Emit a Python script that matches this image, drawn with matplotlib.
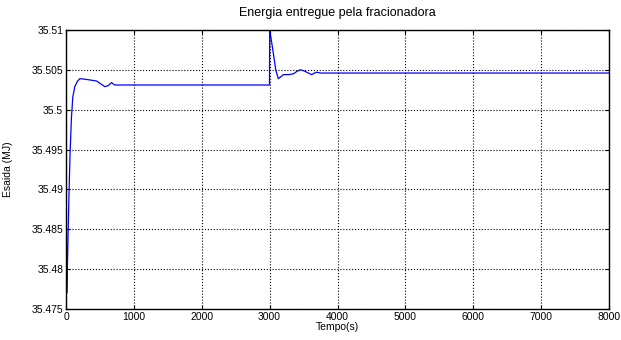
import numpy as np
import matplotlib.pyplot as plt
from matplotlib.ticker import FuncFormatter

# points (time in s, energy in MJ)
tempo = [0, 10, 20, 40, 60, 80, 100, 130, 170, 205, 300, 450, 520, 570, 620, 670, 700, 720, 760, 800,
         2998, 3000, 3020, 3054, 3090, 3128, 3160, 3202, 3280, 3350, 3400, 3447, 3500, 3570, 3620, 3660, 3693, 3750, 8000]
energia = [35.4993, 35.4770, 35.4801, 35.4880, 35.4946, 35.4990, 35.5016, 35.5029, 35.5036, 35.5039, 35.5038, 35.5036,
           35.5032, 35.5029, 35.5030, 35.5034, 35.5032, 35.5031, 35.5031, 35.5031,
           35.5031, 35.5100, 35.5090, 35.5071, 35.5050, 35.5039, 35.5041, 35.5044, 35.5044, 35.5045, 35.5048, 35.5050,
           35.5049, 35.5046, 35.5044, 35.5046, 35.5047, 35.5046, 35.5046]

xticks = [0, 1000, 2000, 3000, 4000, 5000, 6000, 7000, 8000]
yticks = [35.475, 35.48, 35.485, 35.49, 35.495, 35.5, 35.505, 35.51]

plt.rcParams['font.family'] = ['Liberation Sans', 'DejaVu Sans']

fig = plt.figure(figsize=(6.21, 3.4), dpi=100)
ax = fig.add_axes([0.1063, 0.0912, 0.8744, 0.8206])
ax.plot(tempo, energia, color='blue', linewidth=0.9)

ax.set_xlim(0, 8000)
ax.set_ylim(35.475, 35.51)
ax.set_xticks(xticks)
ax.set_yticks(yticks)
ax.yaxis.set_major_formatter(FuncFormatter(lambda v, p: '%g' % round(v, 4)))
ax.grid(True, color='black', linestyle=':', linewidth=0.8)
ax.tick_params(direction='in', top=True, right=True, labelsize=7.5, length=3, pad=2)
for s in ax.spines.values():
    s.set_linewidth(1.0)

ax.set_title('Energia entregue pela fracionadora', fontsize=9, pad=10)
ax.set_xlabel('Tempo(s)', fontsize=7.5, labelpad=0)
ax.set_ylabel('Esaida (MJ)', fontsize=7.5, labelpad=13)

fig.savefig('out.png', dpi=100)
